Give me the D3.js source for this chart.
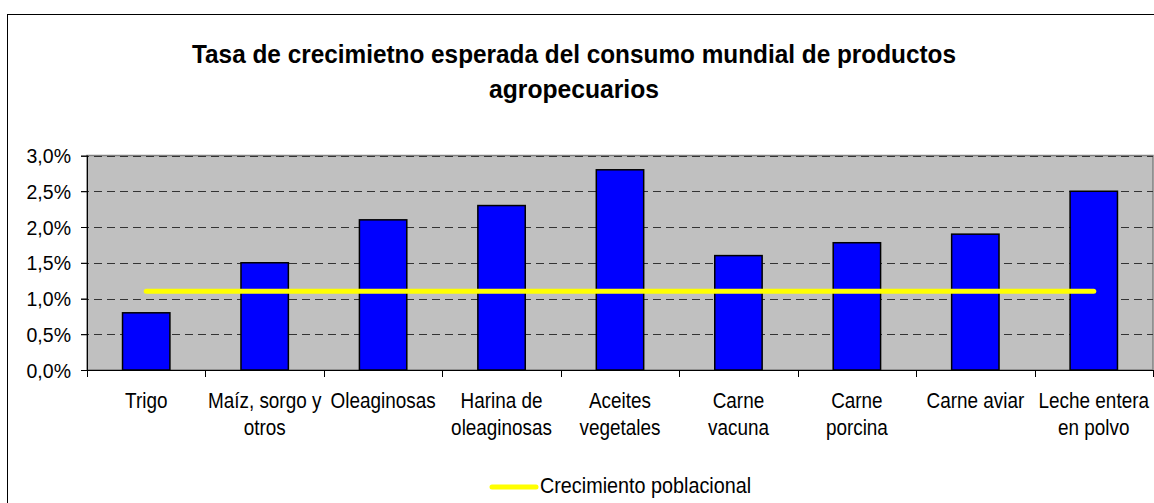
<!DOCTYPE html>
<html>
<head>
<meta charset="utf-8">
<script src="https://cdn.jsdelivr.net/npm/d3@7"></script>
<style>
  html, body { margin: 0; padding: 0; background: #fff; }
  svg { display: block; font-family: "Liberation Sans", Arial, sans-serif; }
</style>
</head>
<body>
<div id="chart"></div>
<script>
// Chart data
const categories = [
  ['Trigo'],
  ['Maíz, sorgo y', 'otros'],
  ['Oleaginosas'],
  ['Harina de', 'oleaginosas'],
  ['Aceites', 'vegetales'],
  ['Carne', 'vacuna'],
  ['Carne', 'porcina'],
  ['Carne aviar'],
  ['Leche entera', 'en polvo']
];
const consumo = [0.8, 1.5, 2.1, 2.3, 2.8, 1.6, 1.78, 1.9, 2.5];
const poblacion = [1.1, 1.1, 1.1, 1.1, 1.1, 1.1, 1.1, 1.1, 1.1];
const yTicks = [0, 0.5, 1.0, 1.5, 2.0, 2.5, 3.0];
const titleLines = ['Tasa de crecimietno esperada del consumo mundial de productos', 'agropecuarios'];
const legendLabel = 'Crecimiento poblacional';

const W = 1154, H = 503;
const plot = { left: 87, right: 1153, top: 155.5, bottom: 370 };

const svg = d3.select('#chart').append('svg')
  .attr('width', W).attr('height', H);

// outer chart border (runs off the image on right/bottom)
svg.append('rect')
  .attr('x', 7.5).attr('y', 14.5)
  .attr('width', 1160).attr('height', 500)
  .attr('fill', '#fff').attr('stroke', '#000').attr('stroke-width', 1);

// title - tall, narrow bold text
svg.append('g').selectAll('text')
  .data(titleLines)
  .enter().append('text')
  .attr('x', 574)
  .attr('y', (d, i) => 63 + i * 35)
  .attr('text-anchor', 'middle')
  .attr('font-size', 26)
  .attr('font-weight', 'bold')
  .attr('fill', '#000')
  .attr('textLength', (d, i) => i === 0 ? 764 : 170)
  .attr('lengthAdjust', 'spacingAndGlyphs')
  .text(d => d);

const x = d3.scaleBand()
  .domain(d3.range(categories.length))
  .range([plot.left, plot.right])
  .paddingInner(0.6)
  .paddingOuter(0.3);

const xOuter = d3.scaleBand()
  .domain(d3.range(categories.length))
  .range([plot.left, plot.right]);

const y = d3.scaleLinear().domain([0, 3]).range([plot.bottom, plot.top]);

// plot area background
svg.append('rect')
  .attr('x', plot.left).attr('y', plot.top)
  .attr('width', plot.right - plot.left).attr('height', plot.bottom - plot.top)
  .attr('fill', '#c0c0c0').attr('stroke', '#808080').attr('stroke-width', 1.5);

// gridlines
svg.append('g').selectAll('line')
  .data(yTicks.filter(t => t > 0))
  .enter().append('line')
  .attr('x1', plot.left - 6).attr('x2', plot.right)
  .attr('y1', d => Math.round(y(d)) + 0.5).attr('y2', d => Math.round(y(d)) + 0.5)
  .attr('stroke', '#333').attr('stroke-width', 1)
  .attr('stroke-dasharray', '8,5');

// y axis
const yAxis = svg.append('g')
  .attr('transform', `translate(${plot.left},0)`)
  .call(d3.axisLeft(y).tickValues(yTicks).tickSize(6).tickFormat(''));
yAxis.select('.domain').attr('stroke', '#000').attr('d', `M0.5,${plot.top}V${plot.bottom + 1}`);
yAxis.selectAll('.tick line').attr('stroke', '#000');

// y tick labels (slightly condensed like the original)
svg.append('g').selectAll('text')
  .data(yTicks)
  .enter().append('text')
  .attr('transform', d => `translate(71,${y(d) + 7.5}) scale(0.93,1)`)
  .attr('text-anchor', 'end')
  .attr('font-size', 21)
  .attr('fill', '#000')
  .text(d => d3.format('.1f')(d).replace('.', ',') + '%');

// bars
svg.append('g').selectAll('rect')
  .data(consumo)
  .enter().append('rect')
  .attr('x', (d, i) => x(i))
  .attr('y', d => y(d))
  .attr('width', x.bandwidth())
  .attr('height', d => y(0) - y(d))
  .attr('fill', '#0000ff')
  .attr('stroke', '#000').attr('stroke-width', 1.5);

// x axis line and ticks at category boundaries
svg.append('line')
  .attr('x1', plot.left - 6).attr('x2', plot.right)
  .attr('y1', plot.bottom + 0.5).attr('y2', plot.bottom + 0.5)
  .attr('stroke', '#000').attr('stroke-width', 1);
svg.append('g').selectAll('line')
  .data(d3.range(categories.length + 1))
  .enter().append('line')
  .attr('x1', i => Math.round(plot.left + i * xOuter.step()) + 0.5)
  .attr('x2', i => Math.round(plot.left + i * xOuter.step()) + 0.5)
  .attr('y1', plot.bottom).attr('y2', plot.bottom + 7)
  .attr('stroke', '#000');

// x labels
const labels = svg.append('g').selectAll('text')
  .data(categories)
  .enter().append('text')
  .attr('text-anchor', 'middle')
  .attr('font-size', 22)
  .attr('fill', '#000')
  .attr('transform', (d, i) => `translate(${xOuter(i) + xOuter.bandwidth() / 2},408) scale(0.86,1)`);
labels.selectAll('tspan')
  .data(d => d)
  .enter().append('tspan')
  .attr('x', 0)
  .attr('y', (d, i) => i * 27)
  .text(d => d);

// population growth line
const line = d3.line()
  .x((d, i) => xOuter(i) + xOuter.bandwidth() / 2)
  .y(d => y(d));
svg.append('path')
  .datum(poblacion)
  .attr('d', line)
  .attr('fill', 'none')
  .attr('stroke', '#ffff00')
  .attr('stroke-width', 5)
  .attr('stroke-linecap', 'round');

// legend
svg.append('line')
  .attr('x1', 492).attr('x2', 536)
  .attr('y1', 487).attr('y2', 487)
  .attr('stroke', '#ffff00').attr('stroke-width', 5)
  .attr('stroke-linecap', 'round');
svg.append('text')
  .attr('transform', 'translate(540,493) scale(0.9,1)')
  .attr('font-size', 22).attr('fill', '#000')
  .text(legendLabel);
</script>
</body>
</html>
